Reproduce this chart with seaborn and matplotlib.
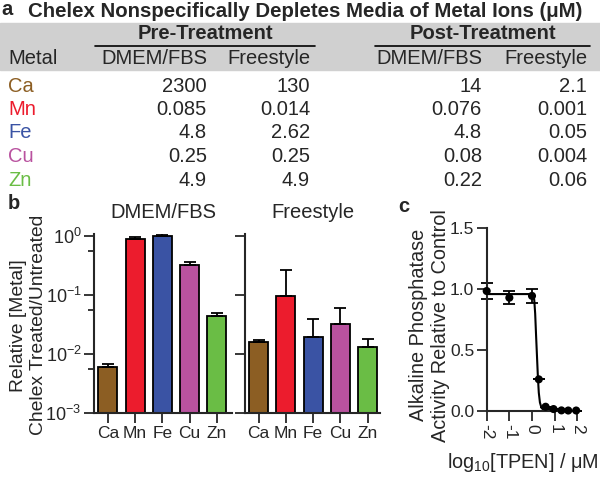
import numpy as np
import pandas as pd
import seaborn as sns
import matplotlib
matplotlib.use("Agg")
from matplotlib import pyplot as plt
from matplotlib.patches import Rectangle
from matplotlib.lines import Line2D
from matplotlib.ticker import FixedLocator, NullLocator, NullFormatter

# table (panel a)
metals = ['Ca', 'Mn', 'Fe', 'Cu', 'Zn']
metal_colors = ['#8c5e23', '#ec1c2d', '#3a53a4', '#b9529f', '#6abd45']
pre_dmem = ['2300', '0.085', '4.8', '0.25', '4.9']
pre_free = ['130', '0.014', '2.62', '0.25', '4.9']
post_dmem = ['14', '0.076', '4.8', '0.08', '0.22']
post_free = ['2.1', '0.001', '0.05', '0.004', '0.06']

# panel b, treated/untreated ratio and upper error
dmem_ratio = [0.006, 0.89, 1.0, 0.32, 0.044]
dmem_err = [0.0008, 0.06, 0.1, 0.04, 0.005]
free_ratio = [0.016, 0.097, 0.0195, 0.032, 0.013]
free_err = [0.001, 0.17, 0.0195, 0.028, 0.005]

# panel c
tpen_log = [-2, -1, 0, 0.3, 0.6, 0.95, 1.3, 1.6, 1.95]
activity = [0.985, 0.93, 0.945, 0.26, 0.035, 0.016, 0.005, 0.004, 0.004]
activity_err = [0.065, 0.055, 0.06, 0, 0, 0, 0, 0, 0]
fit_x = [-2, 0.0, 0.06, 0.1, 0.14, 0.18, 0.22, 0.26, 0.30, 0.35, 0.42, 0.52, 0.65, 2.0]
fit_y = [0.96, 0.96, 0.95, 0.91, 0.80, 0.62, 0.45, 0.28, 0.15, 0.07, 0.025, 0.008, 0.002, 0.0]

sns.set_style('ticks')
plt.rcParams['font.family'] = ['Liberation Sans', 'DejaVu Sans']
plt.rcParams['mathtext.fontset'] = 'custom'
plt.rcParams['mathtext.rm'] = 'Liberation Sans'
plt.rcParams['mathtext.it'] = 'Liberation Sans:italic'
plt.rcParams['mathtext.bf'] = 'Liberation Sans:bold'

W, H = 600, 482
fig = plt.figure(figsize=(W / 100, H / 100), dpi=100)


def fx(x):
    return x / W


def fy(y):
    return 1 - y / H


FS = 14.5

# ---- panel a: table
fig.patches.append(Rectangle((0, fy(70)), 1, 47 / H, transform=fig.transFigure,
                             color='#d0d0d0', zorder=0))
fig.text(fx(1), fy(15), 'a', fontsize=FS, weight='bold', va='baseline')
fig.text(fx(28), fy(17), 'Chelex Nonspecifically Depletes Media of Metal Ions (μM)',
         fontsize=14.7, weight='bold', va='baseline')
fig.text(fx(205), fy(39), 'Pre-Treatment', fontsize=FS, weight='bold', ha='center', va='baseline')
fig.text(fx(483), fy(39), 'Post-Treatment', fontsize=FS, weight='bold', ha='center', va='baseline')
fig.add_artist(Line2D([fx(95), fx(315)], [fy(46)] * 2, color='k', lw=1.2))
fig.add_artist(Line2D([fx(375), fx(590)], [fy(46)] * 2, color='k', lw=1.2))

col_right = [207, 310, 482, 587]
fig.text(fx(8), fy(64), 'Metal', fontsize=FS, va='baseline')
for xr, head in zip(col_right, ['DMEM/FBS', 'Freestyle', 'DMEM/FBS', 'Freestyle']):
    fig.text(fx(xr), fy(64), head, fontsize=FS, ha='right', va='baseline')

row_base = [92, 115, 138.5, 162, 185.5]
for i, m in enumerate(metals):
    fig.text(fx(8), fy(row_base[i]), m, fontsize=FS, color=metal_colors[i], va='baseline')
    for xr, col in zip(col_right, [pre_dmem, pre_free, post_dmem, post_free]):
        fig.text(fx(xr), fy(row_base[i]), col[i], fontsize=FS, ha='right', va='baseline')

# ---- panel b: bars
axL = fig.add_axes([fx(94), fy(413), 138 / W, 179 / H])
axR = fig.add_axes([fx(245), fy(413), 135 / W, 179 / H])

for ax, vals, errs in [(axL, dmem_ratio, dmem_err), (axR, free_ratio, free_err)]:
    df = pd.DataFrame({'metal': metals, 'ratio': vals})
    sns.barplot(data=df, x='metal', y='ratio', hue='metal', palette=metal_colors,
                saturation=1, width=0.7, edgecolor='k', linewidth=1.3, errorbar=None,
                legend=False, ax=ax)
    ax.errorbar(range(len(metals)), vals, yerr=[np.zeros(len(vals)), errs], fmt='none',
                ecolor='k', elinewidth=1.3, capsize=4.5, capthick=1.3, zorder=3)
    ax.set_yscale('log')
    ax.set_ylim(1e-3, 1.08)
    ax.set_yticks([1e-3, 1e-2, 1e-1, 1])
    ax.set_xticks(range(len(metals)))
    ax.set_xticklabels(metals, fontsize=12.5)
    ax.set_xlabel('')
    ax.set_ylabel('')
    ax.tick_params(axis='both', direction='out', length=7, width=1.3, pad=2)
    for s in ['left', 'bottom']:
        ax.spines[s].set_linewidth(1.5)
    sns.despine(ax=ax)

axL.set_xlim(-0.51, 4.56)
axR.set_xlim(-0.5, 4.45)
axL.set_yticklabels(['$10^{-3}$', '$10^{-2}$', '$10^{-1}$', '$10^{0}$'], fontsize=13)
axL.yaxis.set_minor_locator(FixedLocator([0.0055, 0.055, 0.55]))
axL.yaxis.set_minor_formatter(NullFormatter())
axL.tick_params(axis='y', which='minor', direction='out', length=4, width=1.3)
axR.set_yticklabels([])
axR.yaxis.set_minor_locator(NullLocator())
axL.set_ylabel('Relative [Metal]\nChelex Treated/Untreated', fontsize=13.9, va='center')
axL.yaxis.set_label_coords(-0.475, 0.49)

fig.text(fx(8), fy(209), 'b', fontsize=FS, weight='bold', va='baseline')
fig.text(fx(163), fy(218), 'DMEM/FBS', fontsize=FS, ha='center', va='baseline')
fig.text(fx(313), fy(218), 'Freestyle', fontsize=FS, ha='center', va='baseline')

# ---- panel c: dose response
axC = fig.add_axes([fx(486.7), fy(411), 90.6 / W, 182.7 / H])
sns.lineplot(x=fit_x, y=fit_y, color='k', lw=1.5, ax=axC)
axC.errorbar(tpen_log, activity, yerr=activity_err, fmt='none', ecolor='k',
             elinewidth=1.3, capsize=4.5, capthick=1.3, clip_on=False)
sns.scatterplot(x=tpen_log, y=activity, color='k', s=34, edgecolor='none',
                ax=axC, clip_on=False, zorder=4)
axC.set_xlim(-2, 2)
axC.set_ylim(0, 1.5)
axC.set_yticks([0, 0.5, 1.0, 1.5])
axC.set_yticklabels(['0.0', '0.5', '1.0', '1.5'], fontsize=12.5)
axC.set_xticks([-2, -1, 0, 1, 2])
axC.set_xticklabels(['-2', '-1', '0', '1', '2'], fontsize=12.5, rotation=-90)
axC.tick_params(axis='both', direction='out', length=7, width=1.3, pad=2)
for s in ['left', 'bottom']:
    axC.spines[s].set_linewidth(1.5)
sns.despine(ax=axC)
axC.set_ylabel('Alkaline Phosphatase\nActivity Relative to Control', fontsize=14.3, va='center')
axC.yaxis.set_label_coords(-0.626, 0.47)
axC.set_xlabel('log$_{10}$[TPEN] / μM', fontsize=14.3, va='center')
axC.xaxis.set_label_coords(0.40, -0.28)
fig.text(fx(398), fy(212), 'c', fontsize=FS, weight='bold', va='baseline')

fig.savefig('out.png', dpi=100)
